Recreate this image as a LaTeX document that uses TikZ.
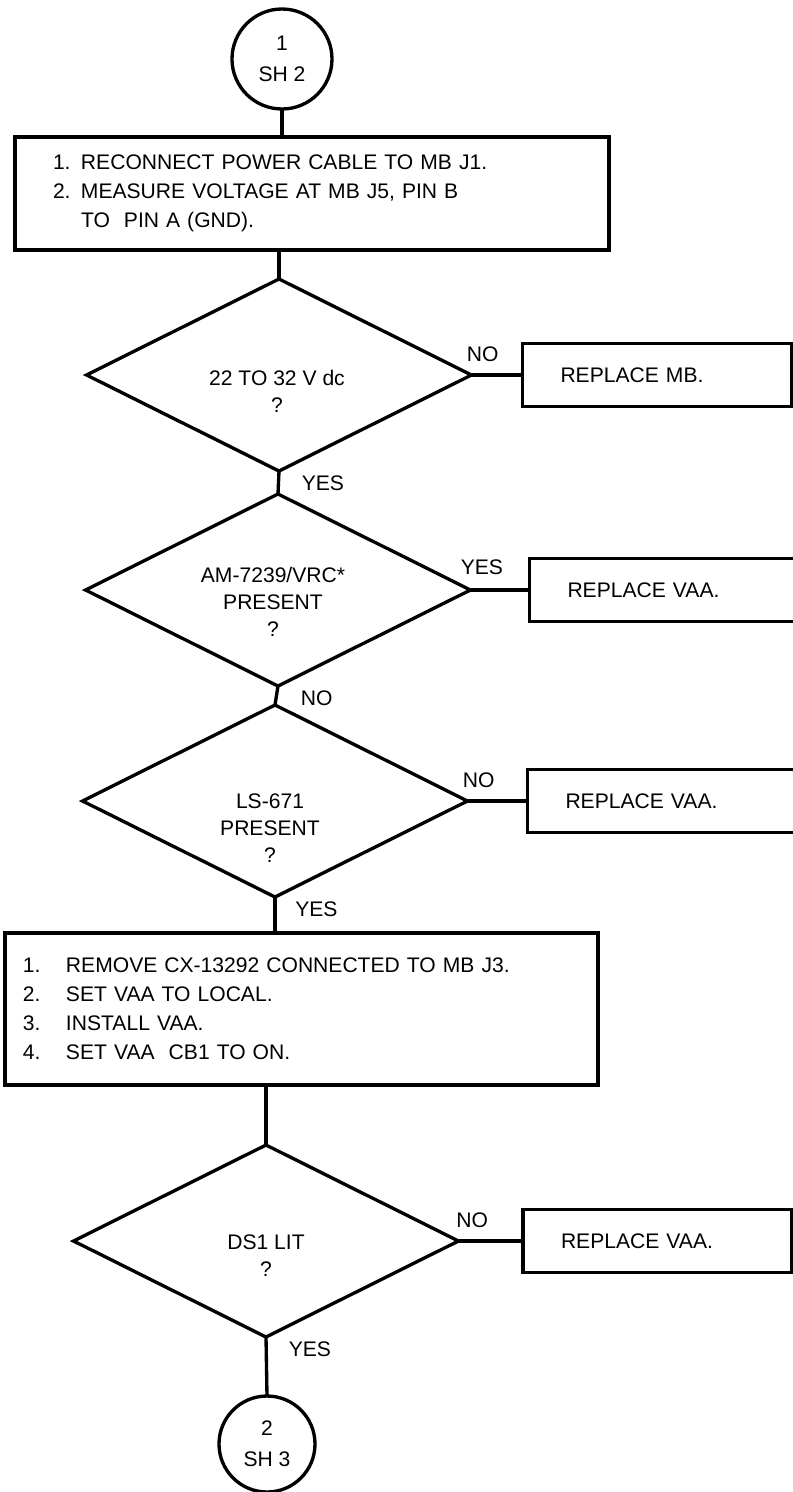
\documentclass[tikz,border=0pt]{standalone}
\usepackage{fontspec}
\setmainfont{Liberation Sans}
\usetikzlibrary{positioning}
\usetikzlibrary{shapes.geometric}

\tikzset{
  every node/.style={font=\fontsize{12}{16.5}\selectfont},
  flowline/.style={line width=1.9pt},
  offpage/.style={draw, circle, line width=1.9pt, inner sep=0pt, outer sep=0pt, align=center, font=\fontsize{12}{17.5}\selectfont},
  stepbox/.style={draw, rectangle, line width=1.9pt, inner ysep=0pt, outer sep=0pt, align=left},
  decision/.style={draw, diamond, line width=1.9pt, minimum width=7.7cm, minimum height=3.84cm, inner sep=0pt, outer sep=0pt},
  qtext/.style={align=center, inner sep=0pt, font=\fontsize{12}{15.5}\selectfont},
  fixbox/.style={draw, rectangle, line width=1.9pt, minimum height=1.26cm, inner xsep=0.76cm, outer sep=0pt, align=left},
  lbl/.style={inner sep=0pt}
}

\begin{document}
\begin{tikzpicture}
    \useasboundingbox (0,0) rectangle (15.86,-29.84);

    % main column
    \node[offpage, minimum size=2cm] (c1) at (5.64,-1.18) {1\\SH 2};

    \node[stepbox, minimum width=11.88cm, minimum height=2.26cm, text width=10.36cm, inner xsep=0.76cm] (act1) at (6.24,-3.87)
        {\makebox[0.56cm][l]{1.}RECONNECT POWER CABLE TO MB J1.\\
         \makebox[0.56cm][l]{2.}MEASURE VOLTAGE AT MB J5, PIN B\\
         \hspace*{0.56cm}TO\ \ PIN A (GND).};

    \node[decision] (d1) at (5.58,-7.5) {};
    \node[qtext] (q1) at (5.54,-7.83) {22 TO 32 V dc\\?};

    \node[decision] (d2) at (5.56,-11.8) {};
    \node[qtext] (q2) at (5.46,-12.04) {AM-7239/VRC*\\PRESENT\\?};

    \node[decision] (d3) at (5.5,-16.02) {};
    \node[qtext] (q3) at (5.4,-16.56) {LS-671\\PRESENT\\?};

    \node[stepbox, minimum width=11.86cm, minimum height=3.04cm, text width=11.14cm, inner xsep=0.36cm] (act2) at (6.03,-20.18)
        {\makebox[0.86cm][l]{1.}REMOVE CX-13292 CONNECTED TO MB J3.\\
         \makebox[0.86cm][l]{2.}SET VAA TO LOCAL.\\
         \makebox[0.86cm][l]{3.}INSTALL VAA.\\
         \makebox[0.86cm][l]{4.}SET VAA\ \ CB1 TO ON.};

    \node[decision] (d4) at (5.32,-24.82) {};
    \node[qtext] (q4) at (5.32,-25.12) {DS1 LIT\\?};

    \node[offpage, minimum size=1.92cm] (c2) at (5.34,-28.88) {2\\SH 3};

    % side boxes
    \node[fixbox, text width=3.86cm, right=1.02cm of d1] (fix1) {REPLACE MB.};
    \node[fixbox, text width=4.2cm, right=1.18cm of d2] (fix2) {REPLACE VAA.};
    \node[fixbox, text width=4.2cm, right=1.2cm of d3] (fix3) {REPLACE VAA.};
    \node[fixbox, text width=3.86cm, right=1.29cm of d4] (fix4) {REPLACE VAA.};

    % branch labels
    \node[lbl, above right=0.26cm and -0.1cm of d1.east] (no1) {NO};
    \node[lbl, below right=0.08cm and 0.45cm of d1.south] (yes1) {YES};
    \node[lbl, above right=0.3cm and -0.2cm of d2.east] (yes2) {YES};
    \node[lbl, below right=0.08cm and 0.45cm of d2.south] (no2) {NO};
    \node[lbl, above right=0.26cm and -0.1cm of d3.east] (no3) {NO};
    \node[lbl, below right=0.08cm and 0.4cm of d3.south] (yes3) {YES};
    \node[lbl, above right=0.26cm and -0.05cm of d4.east] (no4) {NO};
    \node[lbl, below right=0.08cm and 0.45cm of d4.south] (yes4) {YES};

    % connectors
    \draw[flowline] (c1.south) -- (c1.south |- act1.north);
    \draw[flowline] (d1.north |- act1.south) -- (d1.north);
    \draw[flowline] (d1) -- (fix1);
    \draw[flowline] (d1.south) -- (d2.north);
    \draw[flowline] (d2) -- (fix2);
    \draw[flowline] (d2.south) -- (d3.north);
    \draw[flowline] (d3) -- (fix3);
    \draw[flowline] (d3.south) -- (d3.south |- act2.north);
    \draw[flowline] (d4.north |- act2.south) -- (d4.north);
    \draw[flowline] (d4) -- (fix4);
    \draw[flowline] (d4.south) -- (c2.north);
\end{tikzpicture}
\end{document}
